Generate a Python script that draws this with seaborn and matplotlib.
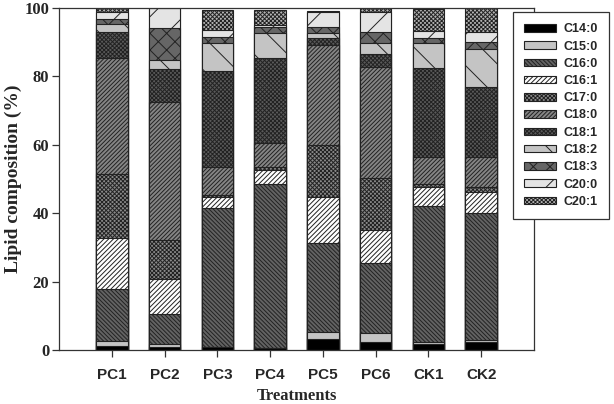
import matplotlib
matplotlib.use('Agg')
import matplotlib.pyplot as plt
from matplotlib.patches import Patch
from matplotlib.font_manager import FontProperties
import numpy as np
import pandas as pd
import seaborn as sns

treatments = ['PC1', 'PC2', 'PC3', 'PC4', 'PC5', 'PC6', 'CK1', 'CK2']
acids = ['C14:0', 'C15:0', 'C16:0', 'C16:1', 'C17:0', 'C18:0',
         'C18:1', 'C18:2', 'C18:3', 'C20:0', 'C20:1']

# lipid composition (%)
c14_0 = [1.3, 1.0, 0.8, 0.5, 3.1, 2.2, 1.8, 2.4]
c15_0 = [1.4, 0.8, 0.1, 0.2, 2.3, 2.9, 0.5, 0.5]
c16_0 = [15.1, 8.6, 40.7, 47.8, 25.8, 20.2, 39.8, 37.1]
c16_1 = [14.9, 10.4, 3.2, 4.1, 13.6, 9.8, 5.5, 6.3]
c17_0 = [18.7, 11.4, 0.5, 0.8, 15.1, 15.1, 0.8, 1.5]
c18_0 = [34.1, 40.2, 8.3, 7.0, 29.3, 32.6, 8.1, 8.5]
c18_1 = [7.6, 9.8, 28.1, 24.9, 2.1, 3.7, 25.9, 20.5]
c18_2 = [2.1, 2.6, 8.0, 7.3, 1.5, 3.2, 7.5, 11.1]
c18_3 = [1.5, 9.4, 1.7, 1.8, 1.7, 3.4, 1.4, 2.3]
c20_0 = [2.0, 5.7, 2.2, 0.6, 4.4, 5.6, 2.1, 2.7]
c20_1 = [1.3, 0.1, 5.8, 4.4, 0.3, 1.2, 6.3, 7.0]

df = pd.DataFrame({'Treatment': treatments,
                   'C14:0': c14_0, 'C15:0': c15_0, 'C16:0': c16_0, 'C16:1': c16_1,
                   'C17:0': c17_0, 'C18:0': c18_0, 'C18:1': c18_1, 'C18:2': c18_2,
                   'C18:3': c18_3, 'C20:0': c20_0, 'C20:1': c20_1})
cum = df[acids].cumsum(axis=1)
cum['Treatment'] = df['Treatment']

# fill colour, hatch
styles = {
    'C14:0': ('#000000', ''),
    'C15:0': ('#c4c4c4', ''),
    'C16:0': ('#636363', '\\' * 8),
    'C16:1': ('#ffffff', '/' * 7),
    'C17:0': ('#8a8a8a', 'x' * 8),
    'C18:0': ('#858585', '/' * 8),
    'C18:1': ('#5a5a5a', 'x' * 8),
    'C18:2': ('#c4c4c4', '\\'),
    'C18:3': ('#666666', 'xx'),
    'C20:0': ('#e4e4e4', '/'),
    'C20:1': ('#b4b4b4', 'x' * 8),
}

sns.set_style('ticks')
plt.rcParams['hatch.linewidth'] = 0.7
edge = '#222222'

fig = plt.figure(figsize=(6.14, 4.04), dpi=100)
ax = fig.add_axes([59 / 614, 54 / 404, 475 / 614, 342 / 404])

# stacked bars: draw cumulative totals from the top down
for acid in reversed(acids):
    fc, h = styles[acid]
    sns.barplot(data=cum, x='Treatment', y=acid, color=fc, saturation=1,
                hatch=h, edgecolor=edge, linewidth=0.8, width=0.6,
                errorbar=None, ax=ax)

ax.set_xlim(-1, 8)
ax.set_ylim(0, 100)
ax.set_yticks([0, 20, 40, 60, 80, 100])
for s in ax.spines.values():
    s.set_visible(True)
    s.set_color('#333333')
    s.set_linewidth(0.9)
ax.tick_params(direction='out', length=5, width=0.9, color='#333333')
ax.tick_params(axis='y', pad=2)
ax.tick_params(axis='x', pad=8)

serif = 'Liberation Serif'
sans = 'Liberation Sans'
ax.set_xlabel('Treatments', family=serif, weight='bold', fontsize=12, labelpad=4)
ax.set_ylabel('Lipid composition (%)', family=serif, weight='bold', fontsize=14, labelpad=2)
for lab in ax.get_yticklabels():
    lab.set_family(serif)
    lab.set_weight('bold')
    lab.set_fontsize(12)
for lab in ax.get_xticklabels():
    lab.set_family(sans)
    lab.set_weight('bold')
    lab.set_fontsize(11)

handles = [Patch(facecolor=styles[a][0], edgecolor=edge, hatch=styles[a][1],
                 linewidth=0.8, label=a) for a in acids]
leg = fig.legend(handles=handles, loc='upper left',
                 bbox_to_anchor=(513 / 614, 1 - 12 / 404),
                 frameon=True, fancybox=False, framealpha=1,
                 edgecolor='#333333',
                 prop=FontProperties(family=sans, weight='bold', size=9),
                 handlelength=2.5, handleheight=0.55, labelspacing=0.42,
                 borderpad=0.9, borderaxespad=0, handletextpad=0.6)
leg.get_frame().set_linewidth(0.9)

fig.savefig('out.png', dpi=100)
